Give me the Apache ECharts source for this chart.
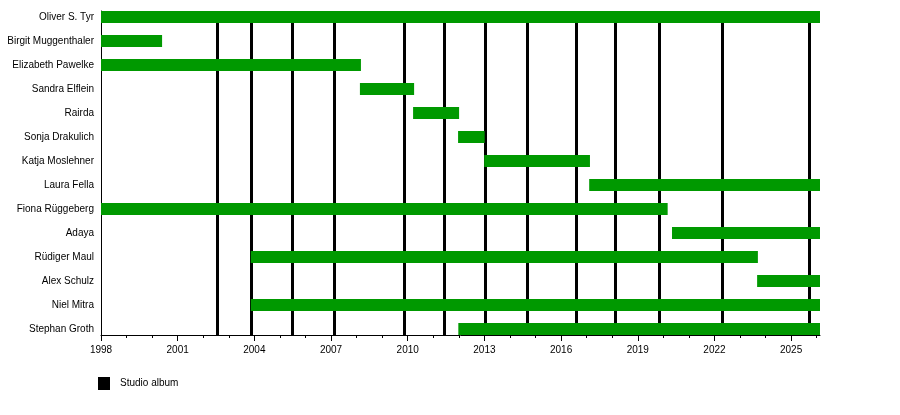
<!DOCTYPE html>
<html>
<head>
<meta charset="utf-8">
<script src="https://cdn.jsdelivr.net/npm/echarts@6/dist/echarts.min.js"></script>
<style>html,body{margin:0;padding:0;background:#fff}#c{width:900px;height:415px}</style>
</head>
<body>
<div id="c"></div>
<script>
const members = ['Oliver S. Tyr','Birgit Muggenthaler','Elizabeth Pawelke','Sandra Elflein','Rairda','Sonja Drakulich','Katja Moslehner','Laura Fella','Fiona Rüggeberg','Adaya','Rüdiger Maul','Alex Schulz','Niel Mitra','Stephan Groth'];
const starts = [1998, 1998, 1998, 2008.13, 2010.21, 2011.97, 2012.99, 2017.10, 1998, 2020.34, 2003.86, 2023.67, 2003.86, 2011.98];
const ends = [2026.13, 2000.39, 2008.17, 2010.25, 2012.01, 2013.01, 2017.13, 2026.13, 2020.17, 2026.13, 2023.70, 2026.13, 2026.13, 2026.13];
const albumYears = [2002.55, 2003.88, 2005.49, 2007.13, 2009.87, 2011.43, 2013.04, 2014.66, 2016.59, 2018.12, 2019.85, 2022.31, 2025.69];
const majorYears = [1998, 2001, 2004, 2007, 2010, 2013, 2016, 2019, 2022, 2025];
const minorYears = [1999, 2000, 2002, 2003, 2005, 2006, 2008, 2009, 2011, 2012, 2014, 2015, 2017, 2018, 2020, 2021, 2023, 2024, 2026];
const xMin = 1998, xMax = 2026.13;

const barData = members.map((m, i) => [starts[i], ends[i], i]);
const FONT = "'Liberation Sans', Arial, sans-serif";

const chart = echarts.init(document.getElementById('c'));
chart.setOption({
  animation: false,
  textStyle: { fontFamily: FONT },
  grid: { left: 101, right: 80, top: 11, bottom: 80 },
  legend: {
    left: 98, top: 377, padding: 0,
    itemWidth: 12, itemHeight: 13,
    data: [{ name: 'Studio album', icon: 'rect' }],
    textStyle: { fontSize: 10, color: '#000', fontFamily: FONT, padding: [0, 0, 0, 5] },
    selectedMode: false
  },
  xAxis: [
    {
      type: 'value', min: xMin, max: xMax, position: 'bottom',
      axisLine: { show: true, onZero: false, lineStyle: { color: '#000', width: 1 } },
      axisTick: { show: true, customValues: majorYears, length: 6, lineStyle: { color: '#000' } },
      axisLabel: { customValues: majorYears, formatter: v => String(Math.round(v)), fontSize: 10, color: '#000', margin: 10, fontFamily: FONT },
      splitLine: { show: false }
    },
    {
      type: 'value', min: xMin, max: xMax, position: 'bottom',
      axisLine: { show: false, onZero: false },
      axisTick: { show: true, customValues: minorYears, length: 3, lineStyle: { color: '#000' } },
      axisLabel: { show: false },
      splitLine: { show: false }
    }
  ],
  yAxis: {
    type: 'value', inverse: true, min: -0.25, max: 13.25,
    axisLine: { show: true, onZero: false, lineStyle: { color: '#000', width: 1 } },
    axisTick: { show: false },
    splitLine: { show: false },
    axisLabel: {
      customValues: members.map((m, i) => i),
      formatter: v => members[Math.round(v)] || '',
      fontSize: 10, color: '#000', margin: 7, fontFamily: FONT
    }
  },
  series: [
    {
      name: 'Studio album', type: 'line', data: [], z: 2,
      color: '#000',
      itemStyle: { color: '#000' }, lineStyle: { color: '#000' },
      markLine: {
        silent: true, symbol: ['none', 'none'],
        label: { show: false },
        lineStyle: { color: '#000', width: 3, type: 'solid' },
        emphasis: { disabled: true },
        data: albumYears.map(y => ({ xAxis: y }))
      }
    },
    {
      name: 'Members', type: 'custom', z: 5,
      encode: { x: [0, 1], y: 2 },
      data: barData,
      renderItem: function (params, api) {
        const s = api.coord([api.value(0), api.value(2)]);
        const e = api.coord([api.value(1), api.value(2)]);
        const h = 12;
        return {
          type: 'rect',
          shape: { x: s[0], y: s[1] - h / 2, width: e[0] - s[0], height: h },
          style: { fill: '#009900' }
        };
      }
    }
  ]
});
</script>
</body>
</html>
